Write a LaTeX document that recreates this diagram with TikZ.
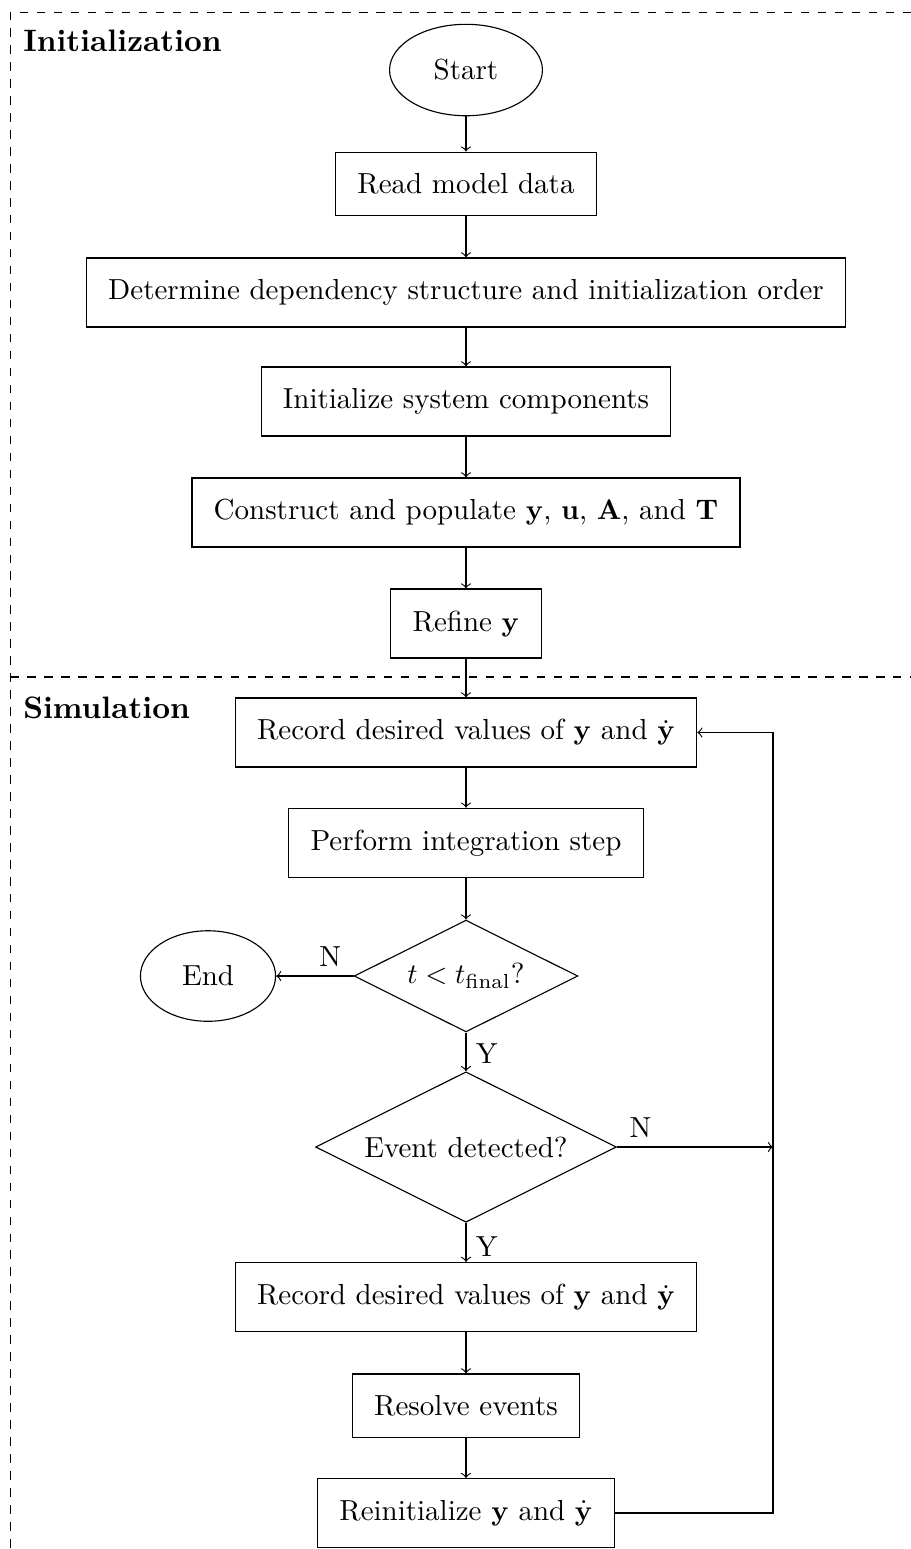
\documentclass[tikz,border=0pt]{standalone}
\usepackage{amsmath}
\usetikzlibrary{shapes.geometric}

\begin{document}
\begin{tikzpicture}[font=\fontsize{10.25}{12.7}\selectfont,
    box/.style={draw, rectangle, inner xsep=7.7pt, inner ysep=7.6pt},
    term/.style={draw, ellipse, inner sep=7.7pt},
    decision/.style={draw, diamond, aspect=2, inner sep=3.3pt},
    phase/.style={anchor=base west, inner sep=0pt, font=\fontsize{10.95}{13.6}\selectfont\bfseries}]
    \useasboundingbox (-5.789,0.870) rectangle (5.528,-18.373);
    % phases
    \draw[dashed] (5.528,0.717) -- (-5.661,0.717) -- (-5.661,-18.373);
    \draw[dashed] (-5.661,-7.540) -- (5.528,-7.540);
    \node[phase] (init) at (-5.507,0.227) {Initialization};
    \node[phase] (sim) at (-5.507,-8.050) {Simulation};
    % initialization
    \node[term] (start) at (0,0) {Start};
    \node[box] (read) at (0,-1.416) {Read model data};
    \node[box] (order) at (0,-2.764) {Determine dependency structure and initialization order};
    \node[box] (comp) at (0,-4.118) {Initialize system components};
    \node[box] (build) at (0,-5.497) {Construct and populate $\mathbf{y}$, $\mathbf{u}$, $\mathbf{A}$, and $\mathbf{T}$};
    \node[box] (refine) at (0,-6.876) {Refine $\mathbf{y}$};
    % simulation
    \node[box] (rec1) at (0,-8.230) {Record desired values of $\mathbf{y}$ and $\dot{\mathbf{y}}$};
    \node[box] (step) at (0,-9.602) {Perform integration step};
    \node[decision] (tcheck) at (0,-11.255) {$t < t_{\text{final}}$?};
    \node[term] (stop) at (-3.205,-11.255) {End};
    \node[decision] (event) at (0,-13.379) {Event detected?};
    \node[box] (rec2) at (0,-15.242) {Record desired values of $\mathbf{y}$ and $\dot{\mathbf{y}}$};
    \node[box] (resolve) at (0,-16.595) {Resolve events};
    \node[box] (reinit) at (0,-17.925) {Reinitialize $\mathbf{y}$ and $\dot{\mathbf{y}}$};
    \coordinate (loop) at (3.814,-13.379);
    % connectors
    \draw[->] (start) -- (read);
    \draw[->] (read) -- (order);
    \draw[->] (order) -- (comp);
    \draw[->] (comp) -- (build);
    \draw[->] (build) -- (refine);
    \draw[->] (refine) -- (rec1);
    \draw[->] (rec1) -- (step);
    \draw[->] (step) -- (tcheck);
    \draw[->] (tcheck) -- node[above, pos=0.3] {N} (stop);
    \draw[->] (tcheck) -- node[right, pos=0.55] {Y} (event);
    \draw[->] (event) -- node[above, pos=0.15] {N} (loop);
    \draw[->] (event) -- node[right, pos=0.6] {Y} (rec2);
    \draw[->] (rec2) -- (resolve);
    \draw[->] (resolve) -- (reinit);
    \draw[->] (reinit.east) -| (loop) |- (rec1.east);
\end{tikzpicture}
\end{document}
